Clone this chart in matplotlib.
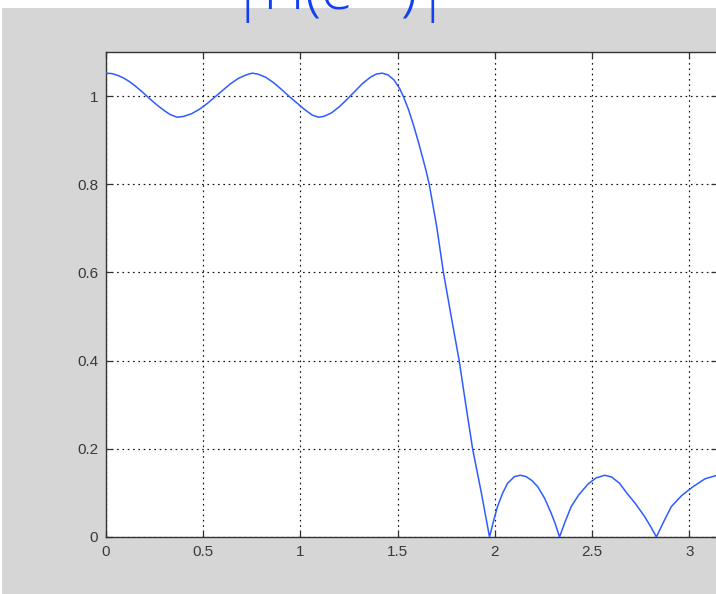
import matplotlib
matplotlib.use("Agg")
import matplotlib.pyplot as plt
from matplotlib.patches import Rectangle
import numpy as np

# frequency (rad/sample) and magnitude
omega = [0.00, 0.03, 0.06, 0.09, 0.12, 0.15, 0.18, 0.21, 0.24, 0.27, 0.30, 0.33, 0.366,
         0.40, 0.44, 0.48, 0.52, 0.56, 0.60, 0.64, 0.68, 0.72, 0.751,
         0.78, 0.82, 0.86, 0.90, 0.94, 0.98, 1.02, 1.06, 1.093,
         1.12, 1.16, 1.20, 1.24, 1.28, 1.32, 1.36, 1.39, 1.42,
         1.45, 1.48, 1.51, 1.53, 1.555, 1.584, 1.61, 1.627, 1.645, 1.662, 1.68, 1.70,
         1.735, 1.775, 1.816, 1.85, 1.885, 1.93, 1.972,
         1.99, 2.013, 2.04, 2.065, 2.10, 2.131, 2.16, 2.19, 2.22, 2.255, 2.289, 2.31, 2.332,
         2.36, 2.392, 2.43, 2.478, 2.52, 2.564, 2.60, 2.64, 2.679, 2.72, 2.77, 2.80, 2.83,
         2.87, 2.907, 2.96, 3.018, 3.08, 3.1416]
mag = [1.052, 1.051, 1.047, 1.041, 1.033, 1.023, 1.012, 1.000, 0.988, 0.977, 0.967, 0.958, 0.952,
       0.954, 0.960, 0.970, 0.983, 0.998, 1.013, 1.028, 1.040, 1.048, 1.052,
       1.050, 1.043, 1.031, 1.016, 1.000, 0.985, 0.970, 0.957, 0.952,
       0.954, 0.962, 0.976, 0.993, 1.011, 1.029, 1.043, 1.050, 1.052,
       1.048, 1.037, 1.017, 0.998, 0.970, 0.930, 0.890, 0.862, 0.832, 0.800, 0.755, 0.705,
       0.600, 0.500, 0.400, 0.300, 0.200, 0.100, 0.000,
       0.032, 0.069, 0.100, 0.122, 0.137, 0.140, 0.137, 0.128, 0.114, 0.088, 0.054, 0.030, 0.000,
       0.034, 0.069, 0.095, 0.120, 0.134, 0.140, 0.136, 0.122, 0.099, 0.077, 0.046, 0.024, 0.000,
       0.037, 0.069, 0.094, 0.114, 0.132, 0.140]

xticks = [0, 0.5, 1, 1.5, 2, 2.5, 3]
xtick_labels = ["0", "0.5", "1", "1.5", "2", "2.5", "3"]
yticks = [0, 0.2, 0.4, 0.6, 0.8, 1]
ytick_labels = ["0", "0.2", "0.4", "0.6", "0.8", "1"]
title_text = r"|H(e$^{j\omega}$)|"

W, H = 716, 594
fig = plt.figure(figsize=(W / 100, H / 100), dpi=100)
fig.patch.set_facecolor("white")
# gray MATLAB figure background below a thin white strip
bg = Rectangle((2 / W, 0), 1, (H - 8) / H, transform=fig.transFigure,
               facecolor="#d6d6d6", edgecolor="none", zorder=-10)
fig.add_artist(bg)

ax = fig.add_axes([106 / W, (H - 537) / H, (717 - 106) / W, (537 - 52) / H])
ax.set_zorder(1)
ax.set_facecolor("white")
ax.plot(omega, mag, color="#2f5cff", lw=1.1, zorder=3, solid_joinstyle="round")
ax.set_xlim(0, np.pi)
ax.set_ylim(0, 1.1)
ax.set_xticks(xticks)
ax.set_xticklabels(xtick_labels)
ax.set_yticks(yticks)
ax.set_yticklabels(ytick_labels)
ax.grid(True, color="#111111", linestyle=(0, (1.4, 3.1)), lw=0.85)
ax.tick_params(direction="in", length=4.5, width=0.9, top=True, right=True,
               labelsize=11, labelcolor="#3a3a3a", color="#333333", pad=5.5)
for lab in ax.get_xticklabels() + ax.get_yticklabels():
    lab.set_family("Liberation Sans")
for s in ax.spines.values():
    s.set_color("#333333")
    s.set_linewidth(1.0)

fig.text(0.465, (H - 10) / H, title_text, color="#1040f0", fontsize=42,
         family=["Open Sans", "DejaVu Sans"], fontweight="light",
         ha="center", va="baseline", zorder=5)

fig.savefig("out.png", dpi=100, facecolor=fig.get_facecolor())
